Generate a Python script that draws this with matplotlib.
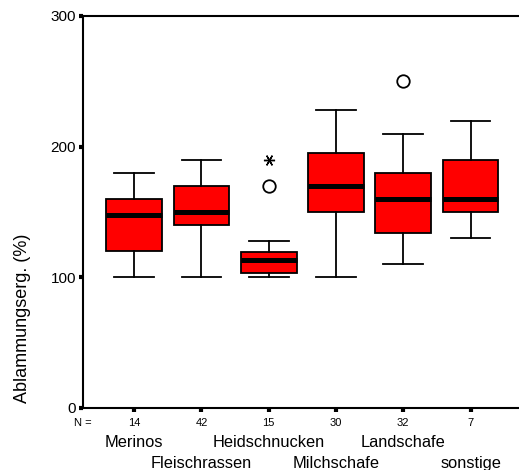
import matplotlib
matplotlib.use('Agg')
import matplotlib.pyplot as plt

plt.rcParams['font.family'] = ['Liberation Sans', 'DejaVu Sans']

# Rassengruppen und Kennwerte der Boxplots
gruppen = ['Merinos', 'Fleischrassen', 'Heidschnucken', 'Milchschafe', 'Landschafe', 'sonstige']
n_werte = [14, 42, 15, 30, 32, 7]
q1 = [120, 140, 103, 150, 134, 150]
median = [148, 150, 113, 170, 160, 160]
q3 = [160, 170, 119, 195, 180, 190]
whisker_lo = [100, 100, 100, 100, 110, 130]
whisker_hi = [180, 190, 128, 228, 210, 220]
ausreisser = [[], [], [170], [], [250], []]
extremwerte = [[], [], [190], [], [], []]

stats = []
for i in range(len(gruppen)):
    stats.append({'label': str(n_werte[i]), 'q1': q1[i], 'med': median[i], 'q3': q3[i],
                  'whislo': whisker_lo[i], 'whishi': whisker_hi[i], 'fliers': ausreisser[i]})

fig = plt.figure(figsize=(5.19, 4.70), dpi=100)
ax = fig.add_axes([0.16, 0.132, 0.84, 0.834])

pos = list(range(1, len(gruppen) + 1))
ax.bxp(stats, positions=pos, widths=0.83, patch_artist=True, capwidths=0.59,
       boxprops=dict(facecolor='#ff0000', edgecolor='black', linewidth=1.3),
       medianprops=dict(color='black', linewidth=3.6),
       whiskerprops=dict(color='black', linewidth=1.3),
       capprops=dict(color='black', linewidth=1.3),
       flierprops=dict(marker='o', markerfacecolor='none', markeredgecolor='black',
                       markersize=9, markeredgewidth=1.3))

# Extremwerte als Sternchen
for p, werte in zip(pos, extremwerte):
    if werte:
        ax.plot([p] * len(werte), werte, linestyle='none', marker=(6, 2, 30),
                markersize=8, markeredgecolor='black', markeredgewidth=1.0)

ax.set_xlim(0.24, 6.72)
ax.set_ylim(0, 300)
ax.set_yticks([0, 100, 200, 300])
ax.set_xticks(pos)
ax.set_xticklabels([str(n) for n in n_werte], fontsize=8)
ax.tick_params(axis='y', direction='out', length=3, width=3, labelsize=11, pad=2)
ax.tick_params(axis='x', direction='out', length=3, width=3, pad=4)
ax.spines['right'].set_visible(False)
for s in ['left', 'top', 'bottom']:
    ax.spines[s].set_linewidth(1.5)

# Beschriftungen unter der Achse
ax.text(0.0, -0.038, 'N =', transform=ax.transAxes, fontsize=8, ha='center', va='center')
for i, (p, g) in enumerate(zip(pos, gruppen)):
    y = -0.087 if i % 2 == 0 else -0.142
    ax.text(p, y, g, transform=ax.get_xaxis_transform(), fontsize=11.8, ha='center', va='center')

fig.text(0.043, 0.322, 'Ablammungserg. (%)', rotation=90, fontsize=13, ha='center', va='center')

fig.savefig('out.png', dpi=100)
